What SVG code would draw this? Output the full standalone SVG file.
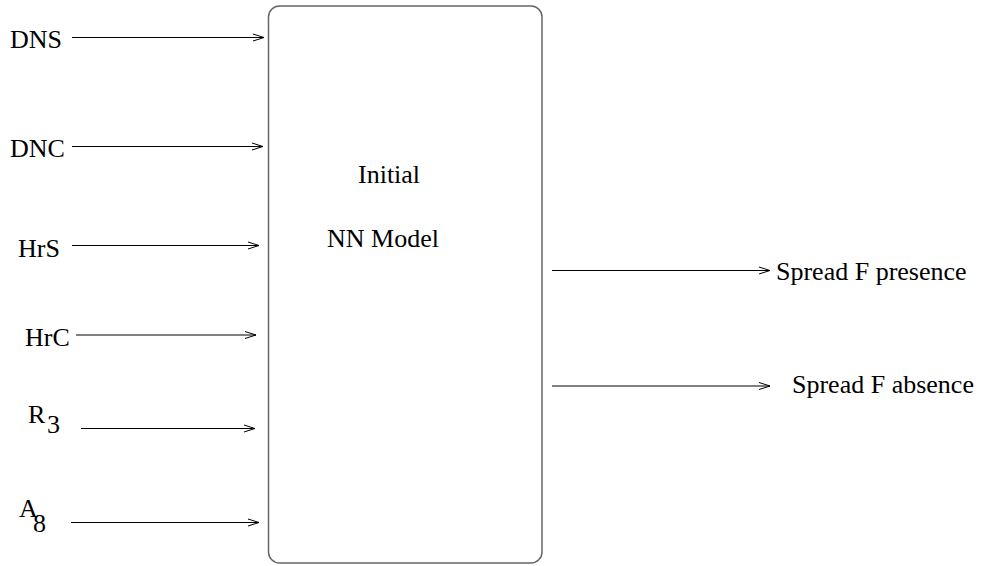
<svg xmlns="http://www.w3.org/2000/svg" width="981" height="566" viewBox="0 0 981 566">
<defs>
<marker id="arr" markerUnits="userSpaceOnUse" markerWidth="14" markerHeight="10" refX="12" refY="5" orient="auto">
<path d="M1,1.5 L12,5 L1,8.5" fill="none" stroke="#000" stroke-width="1"/>
</marker>
</defs>
<style>
text{font-family:"Liberation Serif","Times New Roman",serif;font-size:26px;fill:#000}
.c{stroke:#000;stroke-width:1.2;fill:none;marker-end:url(#arr)}
.box{fill:#fff;stroke:#666;stroke-width:1.5}
</style>
<rect width="981" height="566" fill="#fff"/>
<g id="model">
<rect class="box" x="268.5" y="6" width="273.5" height="557" rx="11"/>
<text x="358" y="183">Initial</text>
<text x="327" y="247">NN Model</text>
</g>
<g id="in-dns"><text x="10" y="48" textLength="52">DNS</text></g>
<g id="in-dnc"><text x="10" y="157">DNC</text></g>
<g id="in-hrs"><text x="18" y="257">HrS</text></g>
<g id="in-hrc"><text x="25" y="346">HrC</text></g>
<g id="in-r3"><text x="28" y="423">R</text><text x="47" y="433">3</text></g>
<g id="in-a8"><text x="19" y="517">A</text><text x="33" y="532">8</text></g>
<g id="out-presence"><text x="776" y="280">Spread F presence</text></g>
<g id="out-absence"><text x="792" y="393">Spread F absence</text></g>
<g id="connectors">
<line class="c" x1="72" y1="37.5" x2="264" y2="37.5"/>
<line class="c" x1="72" y1="146.5" x2="263" y2="146.5"/>
<line class="c" x1="72" y1="245.5" x2="259" y2="245.5"/>
<line class="c" x1="76" y1="335" x2="256" y2="335"/>
<line class="c" x1="81" y1="428.5" x2="255" y2="428.5"/>
<line class="c" x1="71" y1="522.5" x2="259" y2="522.5"/>
<line class="c" x1="552" y1="270.5" x2="770" y2="270.5"/>
<line class="c" x1="552" y1="386" x2="770" y2="386"/>
</g>
</svg>
